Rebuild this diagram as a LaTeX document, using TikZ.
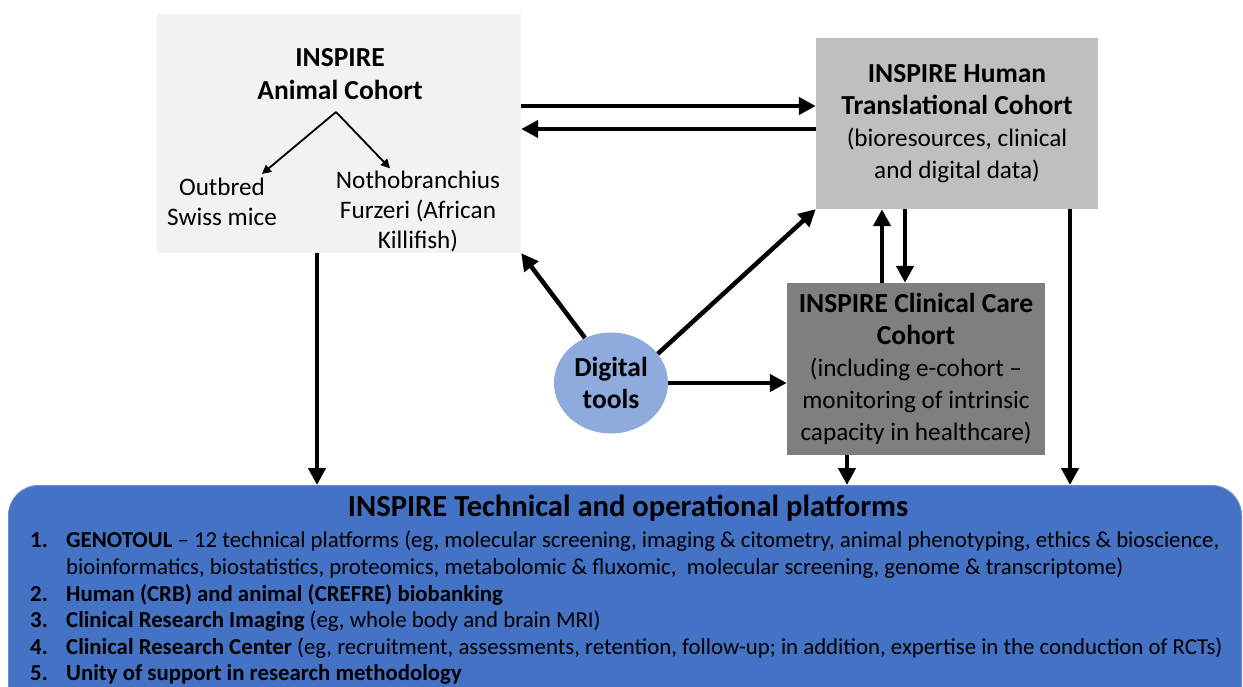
\documentclass[tikz,border=0pt]{standalone}
\usepackage{fontspec}
\setmainfont{Carlito}
\usepackage{xcolor}
\usetikzlibrary{shapes,arrows.meta,positioning}
\definecolor{animalgray}{HTML}{F2F2F2}
\definecolor{humangray}{HTML}{BFBFBF}
\definecolor{caregray}{HTML}{7F7F7F}
\definecolor{digitalblue}{HTML}{8FAADC}
\definecolor{platformblue}{HTML}{4472C4}
\newcommand{\bigbf}[1]{{\fontsize{27.5}{32}\selectfont\bfseries #1}}

\begin{document}
\begin{tikzpicture}[
        x=1pt, y=-1pt,
        cohort/.style={rectangle, inner sep=0pt, align=center, font=\fontsize{25.2}{32}\selectfont},
        boxtext/.style={align=center, inner sep=2pt, font=\fontsize{25.2}{30}\selectfont},
        item/.style={anchor=base west, inner sep=0pt, font=\fontsize{22.8}{27}\selectfont},
        arrow/.style={line width=4.5pt, -{Triangle[length=17pt,width=17pt]}},
        thinarrow/.style={line width=1.8pt, -{Triangle[length=9pt,width=9pt]}}
    ]
        \useasboundingbox (0,0) rectangle (1243,686);
        \clip (0,0) rectangle (1243,686);

        % Animal cohort
        \node[cohort, fill=animalgray, minimum width=364pt, minimum height=239pt] (animal) at (339,133.5) {};
        \node[boxtext, font=\fontsize{27.5}{33}\selectfont\bfseries] (animaltitle) at (340,74.5) {INSPIRE\\Animal Cohort};
        \coordinate (split) at (336,112);
        \node[boxtext] (mice) at (222,202) {Outbred\\Swiss mice};
        \node[boxtext] (fish) at (418,211) {Nothobranchius\\Furzeri (African\\Killifish)};
        \draw[thinarrow] (split) -- ([xshift=40pt,yshift=2pt]mice.north);
        \draw[thinarrow] (split) -- ([xshift=-28pt]fish.north);

        % Human translational cohort
        \node[cohort, fill=humangray, minimum width=282pt, minimum height=171pt] (human) at (957,123.5)
            {\bigbf{INSPIRE Human}\\\bigbf{Translational Cohort}\\(bioresources, clinical\\and digital data)};

        % Clinical care cohort
        \node[cohort, fill=caregray, minimum width=258pt, minimum height=172pt] (care) at (916,369)
            {\bigbf{INSPIRE Clinical Care}\\\bigbf{Cohort}\\(including e-cohort --\\monitoring of intrinsic\\capacity in healthcare)};

        % Digital tools
        \node[ellipse, fill=digitalblue, inner sep=0pt, minimum width=114pt, minimum height=101pt,
              align=center, font=\fontsize{27.5}{32}\selectfont\bfseries] (digital) at (611,383) {Digital\\tools};

        % Platforms
        \node[rectangle, rounded corners=30pt, fill=platformblue, draw=platformblue!80!white, line width=1pt,
              minimum width=1233pt, minimum height=240pt, anchor=north west] (platforms) at (8,485) {};
        \node[inner sep=0pt, font=\fontsize{30.6}{33}\selectfont\bfseries] (platformtitle) at (628,508)
            {INSPIRE Technical and operational platforms};
        \node[item] (num1) at (30,547) {\textbf{1.}};
        \node[item] (item1) at (66,547) {\textbf{GENOTOUL} -- 12 technical platforms (eg, molecular screening, imaging \& citometry, animal phenotyping, ethics \& bioscience,};
        \node[item] (item1b) at (66,574) {bioinformatics, biostatistics, proteomics, metabolomic \& fluxomic,\ \ molecular screening, genome \& transcriptome)};
        \node[item] (num2) at (30,601) {\textbf{2.}};
        \node[item] (item2) at (66,601) {\textbf{Human (CRB) and animal (CREFRE) biobanking}};
        \node[item] (num3) at (30,627) {\textbf{3.}};
        \node[item] (item3) at (66,627) {\textbf{Clinical Research Imaging} (eg, whole body and brain MRI)};
        \node[item] (num4) at (30,654) {\textbf{4.}};
        \node[item] (item4) at (66,654) {\textbf{Clinical Research Center} (eg, recruitment, assessments, retention, follow-up; in addition, expertise in the conduction of RCTs)};
        \node[item] (num5) at (30,680) {\textbf{5.}};
        \node[item] (item5) at (66,680) {\textbf{Unity of support in research methodology}};

        % Connections
        \draw[arrow] ([yshift=27.5pt]animal.east) -- ([yshift=27.5pt]animal.east -| human.west);
        \draw[arrow] ([yshift=-5.5pt]human.west) -- ([yshift=-5.5pt]human.west -| animal.east);
        \draw[arrow] ([xshift=-22pt]animal.south) -- ([xshift=-22pt]animal.south |- platforms.north);
        \draw[arrow] ([xshift=113pt]human.south) -- ([xshift=113pt]human.south |- platforms.north);
        \draw[arrow] ([xshift=-34pt]care.north) -- ([xshift=-34pt]care.north |- human.south);
        \draw[arrow] ([xshift=-11pt]care.north |- human.south) -- ([xshift=-11pt]care.north);
        \draw[arrow] ([xshift=-69pt]care.south) -- ([xshift=-69pt]care.south |- platforms.north);
        \draw[arrow] (digital.120) -- (animal.south east);
        \draw[arrow] (digital.32) -- (human.south west);
        \draw[arrow] (digital.east) -- (digital.east -| care.west);
    \end{tikzpicture}
\end{document}
